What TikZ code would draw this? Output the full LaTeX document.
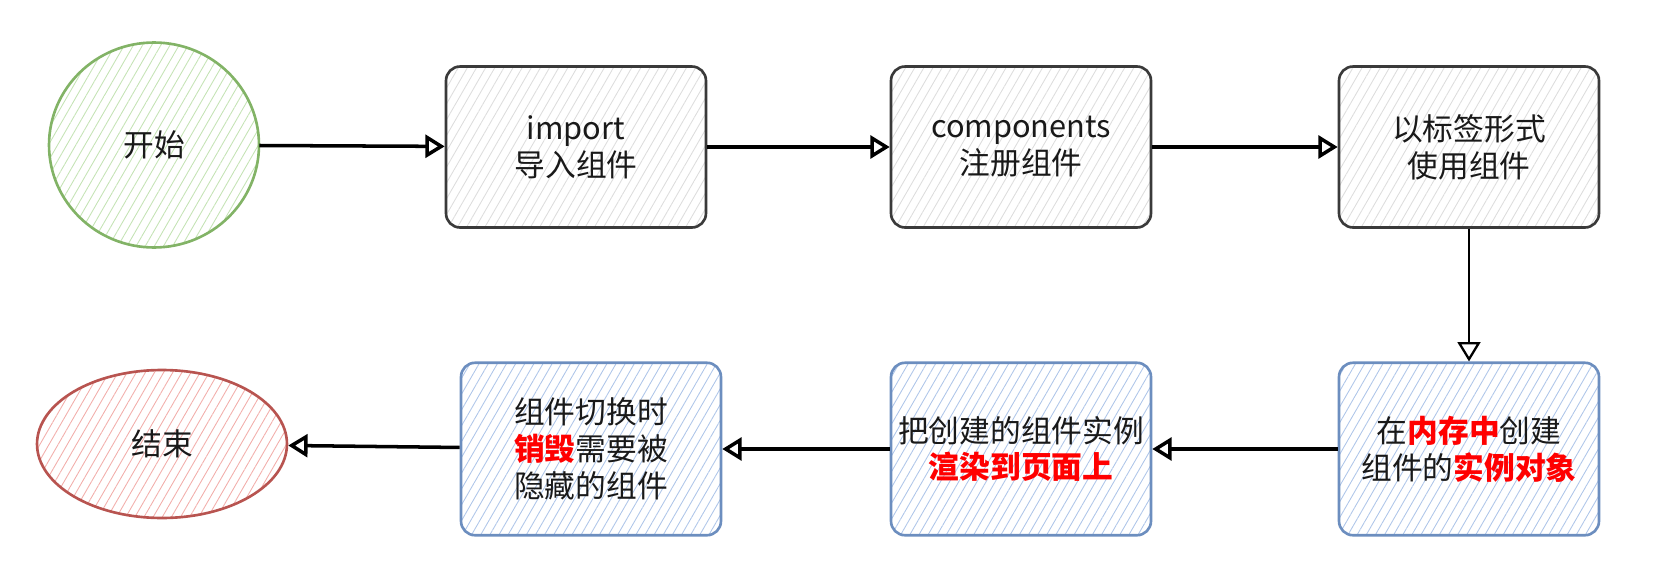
\documentclass[tikz,border=0pt]{standalone}
\usepackage{fontspec}
\setmainfont{Noto Sans CJK SC}
\usetikzlibrary{arrows.meta,patterns.meta,shapes.geometric}

\definecolor{startline}{HTML}{82B366}
\definecolor{starthatch}{HTML}{C5E3B5}
\definecolor{endline}{HTML}{B85450}
\definecolor{endhatch}{HTML}{F2AEAB}
\definecolor{grayline}{HTML}{3A3A3A}
\definecolor{grayhatch}{HTML}{DDDDDD}
\definecolor{blueline}{HTML}{6C8EBF}
\definecolor{bluehatch}{HTML}{AFC6E9}
\definecolor{hotred}{HTML}{FF0000}

\tikzset{
  hatch/.style={pattern={Lines[angle=60,distance=4.5pt,line width=0.5pt]}, pattern color=#1},
  txt/.style={align=center, font=\fontsize{17.5}{21}\selectfont, text=black!90},
  startnode/.style={txt, ellipse, draw=startline, line width=1.5pt, hatch=starthatch,
    minimum width=4.2cm, minimum height=4.1cm},
  endnode/.style={txt, ellipse, draw=endline, line width=1.5pt, hatch=endhatch,
    minimum width=5cm, minimum height=2.96cm},
  graybox/.style={txt, rectangle, rounded corners=8pt, draw=grayline, line width=1.5pt,
    hatch=grayhatch, minimum width=5.2cm, minimum height=3.22cm},
  bluebox/.style={txt, rectangle, rounded corners=8pt, draw=blueline, line width=1.5pt,
    hatch=bluehatch, minimum width=5.2cm, minimum height=3.45cm},
  flow/.style={line width=2pt, -{Triangle[open,length=11pt,width=13pt]}},
}
\newcommand{\hl}[1]{\textcolor{hotred}{\textbf{#1}}}

\begin{document}
\begin{tikzpicture}[x=0.02cm, y=-0.02cm]
  \useasboundingbox (0,0) rectangle (1657,561);

  % top row
  \node[startnode] (start) at (154,145) {开始};
  \node[graybox] (imp) at (576,147) {import\\导入组件};
  \node[graybox] (reg) at (1021,147) {components\\注册组件};
  \node[graybox] (use) at (1469,147) {以标签形式\\使用组件};

  % bottom row
  \node[bluebox] (make) at (1469,449) {在\hl{内存中}创建\\组件的\hl{实例对象}};
  \node[bluebox] (show) at (1021,449) {把创建的组件实例\\\hl{渲染到页面上}};
  \node[bluebox] (kill) at (591,449) {组件切换时\\\hl{销毁}需要被\\隐藏的组件};
  \node[endnode] (stop) at (162,444) {结束};

  % connectors
  \draw[flow] (start) -- (imp);
  \draw[flow] (imp) -- (reg);
  \draw[flow] (reg) -- (use);
  \draw[flow, line width=1.3pt] (use) -- (make);
  \draw[flow] (make) -- (show);
  \draw[flow] (show) -- (kill);
  \draw[flow] (kill) -- (stop);
\end{tikzpicture}
\end{document}
